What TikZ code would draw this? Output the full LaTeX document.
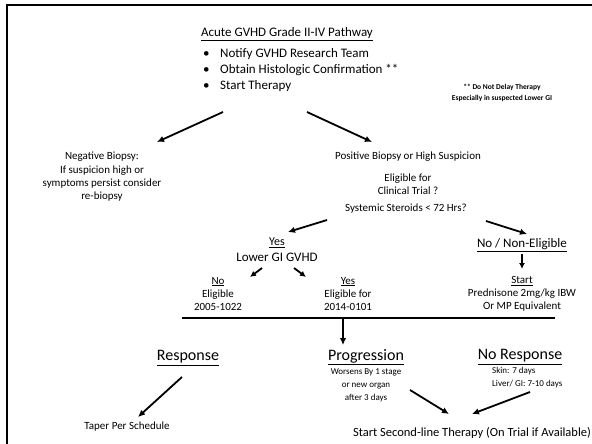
\documentclass[tikz,border=0pt]{standalone}
\usepackage{fontspec}
\setmainfont{Carlito}
\usetikzlibrary{arrows.meta}
\begin{document}
\begin{tikzpicture}[x=1pt,y=-1pt,
  every node/.style={inner sep=0pt, align=center},
  body/.style={font=\fontsize{11}{13.3}\selectfont},
  mid/.style={font=\fontsize{13}{16}\selectfont},
  head/.style={font=\fontsize{16}{19}\selectfont},
  tiny/.style={font=\fontsize{9}{13}\selectfont},
  note/.style={font=\bfseries\fontsize{7.5}{11}\selectfont},
  flow/.style={line width=1.8pt, -{Latex[length=7pt,width=6.5pt]}},
  flowsm/.style={line width=1.8pt, -{Latex[length=6pt,width=6pt]}},
  rule/.style={line width=2.5pt}]
\useasboundingbox (0,0) rectangle (592,444);
% outer frame (top and left edges)
\coordinate (fb) at (7,452);
\coordinate (fc) at (7,5);
\coordinate (fr) at (600,5);
\draw[rule, line cap=rect] (fb) -- (fc) -- (fr);

% header
\node[mid] (title) at (287,34) {\underline{Acute GVHD Grade II-IV Pathway}};
\node[mid, align=left, anchor=north west] (steps) at (203,48)
  {\makebox[17pt][l]{\textbullet}Notify GVHD Research Team\\
   \makebox[17pt][l]{\textbullet}Obtain Histologic Confirmation **\\
   \makebox[17pt][l]{\textbullet}Start Therapy};
\node[note] (warn) at (502,93) {** Do Not Delay Therapy\\Especially in suspected Lower GI};

% first split
\coordinate (s1) at (223,112); \coordinate (e1) at (157,142);
\coordinate (s2) at (307,112); \coordinate (e2) at (372,142);
\draw[flow] (s1) -- (e1);
\draw[flow] (s2) -- (e2);

\node[body] (neg) at (102,177) {Negative Biopsy:\\If suspicion high or\\symptoms persist consider\\re-biopsy};
\node[body] (pos) at (408,157) {Positive Biopsy or High Suspicion};
\node[body] (elig) at (408,184) {Eligible for\\Clinical Trial ?};
\node[body] (ster) at (406,209) {Systemic Steroids < 72 Hrs?};

% steroid split
\coordinate (s3) at (327,220); \coordinate (e3) at (288,232);
\coordinate (s4) at (486,221); \coordinate (e4) at (527,234);
\draw[flow] (s3) -- (e3);
\draw[flow] (s4) -- (e4);

\node[font=\fontsize{12}{14}\selectfont] (yes) at (277,243) {\underline{Yes}};
\node[mid] (lgi) at (277,257) {Lower GI GVHD};
\node[mid] (noel) at (522,245) {\underline{No / Non-Eligible}};

\coordinate (s5) at (262,268); \coordinate (e5) at (250,277);
\coordinate (s6) at (294,268); \coordinate (e6) at (306,277);
\draw[flowsm] (s5) -- (e5);
\draw[flowsm] (s6) -- (e6);
\coordinate (s7) at (522,254); \coordinate (e7) at (522,269);
\draw[flowsm] (s7) -- (e7);

\node[body] (no) at (218,294) {\underline{No}\\Eligible\\2005-1022};
\node[body] (yes2) at (348,294) {\underline{Yes}\\Eligible for\\2014-0101};
\node[body] (pred) at (522,294) {\underline{Start}\\Prednisone 2mg/kg IBW\\Or MP Equivalent};

% merge bar
\coordinate (barL) at (182,318); \coordinate (barR) at (555,318);
\coordinate (barM) at (343,318); \coordinate (e8) at (343,345);
\draw[rule] (barL) -- (barR);
\draw[flow] (barM) -- (e8);

% outcomes
\node[head] (resp) at (188,358) {\underline{Response}};
\node[head] (prog) at (366,357) {\underline{Progression}};
\node[head] (nresp) at (520,357) {\underline{No Response}};
\node[tiny] (progd) at (366,385) {Worsens By 1 stage\\or new organ\\after 3 days};
\node[tiny, align=left, anchor=north west] (nrespd) at (492,367) {Skin: 7 days\\Liver/ GI: 7-10 days};

\coordinate (s9) at (182,377); \coordinate (e9) at (138,417);
\draw[flow] (s9) -- (e9);
\node[body] (taper) at (127,427) {Taper Per Schedule};

\coordinate (s10) at (410,390); \coordinate (e10) at (449,414);
\coordinate (s11) at (530,392); \coordinate (e11) at (472,414);
\draw[flow] (s10) -- (e10);
\draw[flow] (s11) -- (e11);
\node[font=\fontsize{12.5}{15}\selectfont] (second) at (472,433) {Start Second-line Therapy (On Trial if Available)};
\end{tikzpicture}
\end{document}
